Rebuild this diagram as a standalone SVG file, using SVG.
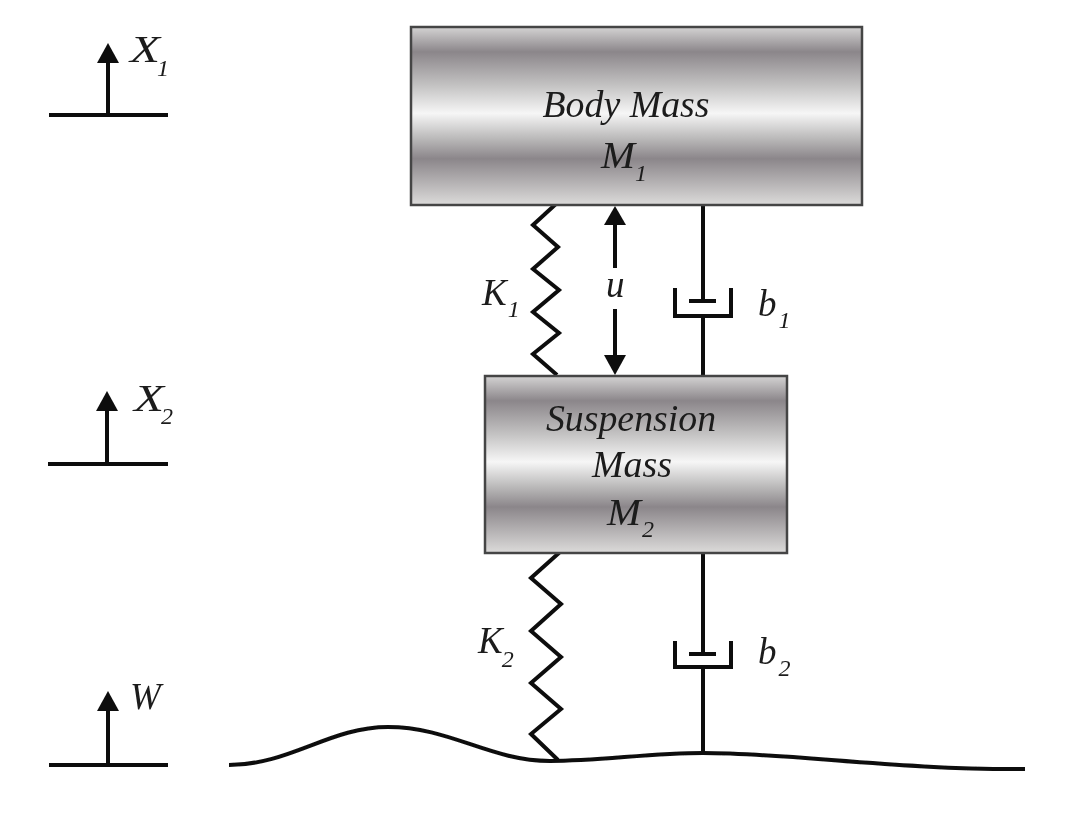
<svg xmlns="http://www.w3.org/2000/svg" width="1067" height="818" viewBox="0 0 1067 818">
<style>
.lbl{font-family:"Liberation Serif","Times New Roman",serif;font-style:italic;fill:#1a1a1a;font-size:37px}
.c{text-anchor:middle;font-size:37.8px}
.sub{font-size:24px}
.ln{fill:none;stroke:#111;stroke-width:4}
.box{stroke:#444;stroke-width:2.5}
.hd{fill:#111;stroke:none}
</style>
<defs>
<linearGradient id="metal" x1="0" y1="0" x2="0" y2="1">
<stop offset="0" stop-color="#d4d3d3"/>
<stop offset="0.14" stop-color="#8b868a"/>
<stop offset="0.33" stop-color="#c4c3c3"/>
<stop offset="0.485" stop-color="#f6f6f6"/>
<stop offset="0.62" stop-color="#bdbcbc"/>
<stop offset="0.74" stop-color="#8b868a"/>
<stop offset="1" stop-color="#dcdbda"/>
</linearGradient>
<filter id="soft" x="-2%" y="-2%" width="104%" height="104%"><feGaussianBlur stdDeviation="0.55"/></filter>
</defs>
<g filter="url(#soft)">
<g id="connectors">
<polyline class="ln" points="557,203 533,225 558,247 533,269 559,290 533,312 559,333 533,354 557,375"/>
<polyline class="ln" points="560,552 531,578 561,604 531,631 561,657 531,683 561,709 531,734 558,760"/>
<path class="ln" d="M615 222V268M615 309V358"/>
<polygon class="hd" points="615,206 626,225 604,225"/>
<polygon class="hd" points="615,375 626,355 604,355"/>
<path class="ln" d="M703 205V301M689 301H716M675 288V316H731V288M703 316V376"/>
<path class="ln" d="M703 553V654M689 654H716M675 641V667H731V641M703 667V753"/>
<path class="ln" d="M229 765C290 765 330 727 388 727C450 727 490 761 550 761C600 761 650 753 703 753C790 753 900 770 1025 769"/>
</g>
<g id="ref-x1">
<path class="ln" d="M49 115H168M108 115V60"/>
<polygon class="hd" points="108,43 119,63 97,63"/>
<text class="lbl" x="130" y="62"><tspan textLength="30" lengthAdjust="spacingAndGlyphs">X</tspan><tspan class="sub" dx="-3" dy="14">1</tspan></text>
</g>
<g id="ref-x2">
<path class="ln" d="M48 464H168M107 464V408"/>
<polygon class="hd" points="107,391 118,411 96,411"/>
<text class="lbl" x="134" y="411"><tspan textLength="30" lengthAdjust="spacingAndGlyphs">X</tspan><tspan class="sub" dx="-3" dy="13">2</tspan></text>
</g>
<g id="ref-w">
<path class="ln" d="M49 765H168M108 765V708"/>
<polygon class="hd" points="108,691 119,711 97,711"/>
<text class="lbl" x="130" y="709">W</text>
</g>
<g id="body-mass">
<rect class="box" x="411" y="27" width="451" height="178" fill="url(#metal)"/>
<text class="lbl c" x="626" y="117">Body Mass</text>
<text class="lbl" x="601" y="168"><tspan textLength="34" lengthAdjust="spacingAndGlyphs">M</tspan><tspan class="sub" dy="13">1</tspan></text>
</g>
<g id="suspension-mass">
<rect class="box" x="485" y="376" width="302" height="177" fill="url(#metal)"/>
<text class="lbl c" x="631" y="431">Suspension</text>
<text class="lbl c" x="632" y="477">Mass</text>
<text class="lbl" x="607" y="525"><tspan textLength="34" lengthAdjust="spacingAndGlyphs">M</tspan><tspan class="sub" dx="1" dy="12">2</tspan></text>
</g>
<g id="labels">
<text class="lbl" x="482" y="305">K<tspan class="sub" dx="1" dy="12">1</tspan></text>
<text class="lbl" x="478" y="653">K<tspan class="sub" dx="-1" dy="14">2</tspan></text>
<text class="lbl" x="606" y="297">u</text>
<text class="lbl" x="758" y="316">b<tspan class="sub" dx="2" dy="12">1</tspan></text>
<text class="lbl" x="758" y="664">b<tspan class="sub" dx="2" dy="12">2</tspan></text>
</g>
</g>
</svg>
